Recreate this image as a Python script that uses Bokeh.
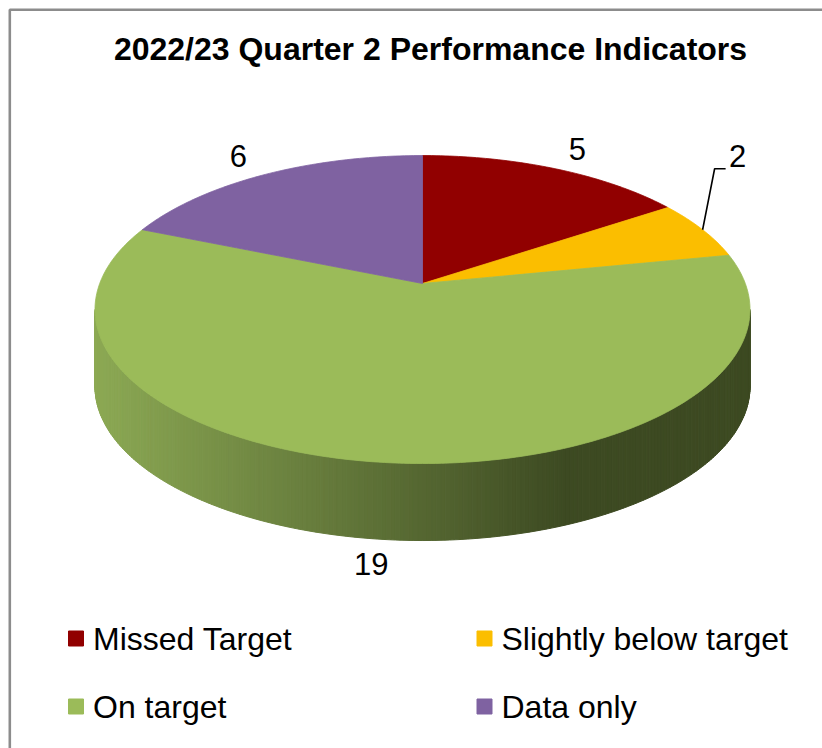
import math
from bokeh.plotting import figure
from bokeh.models import Range1d
from bokeh.core.properties import value
from bokeh.embed import file_html
from bokeh.resources import INLINE

# ---- data ----
title = "2022/23 Quarter 2 Performance Indicators"
categories = ["Missed Target", "Slightly below target", "On target", "Data only"]
counts = [5, 2, 19, 6]
colors = ["#910000", "#FBBE00", "#9BBB59", "#7F62A1"]

# ---- geometry / style (3D perspective pie) ----
X0, Y0 = 422.0, 283.0      # projected centre of the pie top
A, B = 322.8, 149.6        # projected radii
K = 0.169                  # perspective factor
H = 77.0                   # thickness of the side
FONT = value("Liberation Sans")


def proj(t, r=1.0):
    w = 1.0 + K * r * math.sin(t)
    return X0 + A * r * math.cos(t) / w, Y0 - B * r * math.sin(t) / w


p = figure(width=822, height=748, x_range=Range1d(0, 822), y_range=Range1d(748, 0),
           output_backend="svg", toolbar_location=None, min_border=0,
           x_axis_location=None, y_axis_location=None)
p.grid.visible = False
p.outline_line_color = None
p.background_fill_color = "white"
p.border_fill_color = "white"

# chart frame
p.line([9.3, 9.3, 822], [748, 9.3, 9.3], line_color="#8c8c8c", line_width=2.6)

# ---- side (front half, green slice) with a horizontal gradient ----
def lerp(c1, c2, f):
    a = [int(c1[i:i + 2], 16) for i in (1, 3, 5)]
    b = [int(c2[i:i + 2], 16) for i in (1, 3, 5)]
    return "#%02x%02x%02x" % tuple(int(round(a[j] + (b[j] - a[j]) * f)) for j in range(3))

t_a = math.pi + math.asin(K)
t_b = 2 * math.pi - math.asin(K)
N = 240
xl = proj(t_a)[0]
xd = 565.0
sx, sy, sc = [], [], []
for i in range(N):
    t1 = t_a + (t_b - t_a) * i / N
    t2 = t_a + (t_b - t_a) * (i + 1) / N
    x1, y1 = proj(t1)
    x2, y2 = proj(t2)
    sx.append([x1, x2, x2, x1])
    sy.append([y1, y2, y2 + H, y1 + H])
    xm = (x1 + x2) / 2
    f = min(1.0, max(0.0, (xm - xl) / (xd - xl)))
    sc.append(lerp("#8ca954", "#3d4a22", f))
p.patches(sx, sy, fill_color=sc, line_color=sc, line_width=1)

# ---- top face slices (clockwise from 12 o'clock) ----
total = float(sum(counts))
xs, ys, mids = [], [], []
start = math.pi / 2
for c in counts:
    span = 2 * math.pi * c / total
    end = start - span
    n = max(4, int(c * 12))
    px, py = [X0], [Y0]
    for j in range(n + 1):
        t = start + (end - start) * j / n
        x, y = proj(t)
        px.append(x)
        py.append(y)
    xs.append(px)
    ys.append(py)
    mids.append((start + end) / 2)
    start = end
p.patches(xs, ys, fill_color=colors, line_color=colors, line_width=0.8)

# ---- data labels ----
label_r = [1.2, 1.0, 1.11, 1.2]
lx, ly = [], []
for i, m in enumerate(mids):
    x, y = proj(m, label_r[i])
    if math.sin(m) < 0:
        y += H
        x -= 8
    lx.append(x)
    ly.append(y)

# small slice: label moved out with a leader line
rx, ry = lx[1], ly[1]
lx[1], ly[1] = rx + 35, ry - 74
p.line([rx, lx[1] - 23, lx[1] - 12], [ry, ly[1] + 13, ly[1] + 13],
       line_color="black", line_width=1.6)

p.text(x=lx, y=ly, text=[str(c) for c in counts], text_font=FONT,
       text_font_size="31px", text_align="center", text_baseline="middle",
       text_color="black")

# ---- title ----
p.text(x=[430], y=[48.5], text=[title], text_font=FONT, text_font_style="bold",
       text_font_size="32px", text_align="center", text_baseline="middle",
       text_color="black")

# ---- legend (2 columns) ----
col_x = [75.5, 484.0]
row_y = [638.0, 706.0]
gx = [col_x[i % 2] for i in range(len(categories))]
gy = [row_y[i // 2] for i in range(len(categories))]
p.scatter(gx, gy, marker="square", size=15, fill_color=colors, line_color=colors)
p.text(x=[x + 17 for x in gx], y=gy, text=categories, text_font=FONT,
       text_font_size="32px", text_align="left", text_baseline="middle",
       text_color="black")

open("out.html", "w").write(file_html(p, INLINE))
